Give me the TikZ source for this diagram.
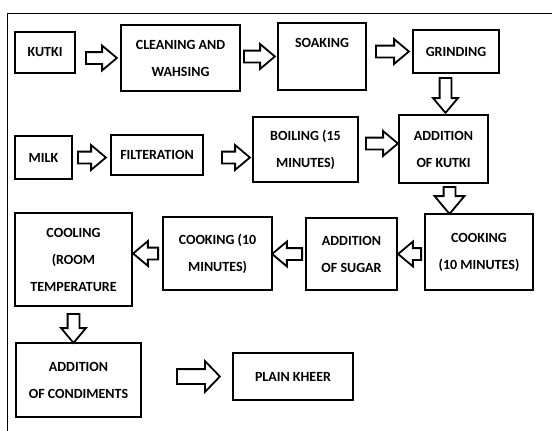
\documentclass[tikz,border=0pt]{standalone}
\usepackage{fontspec}
\setmainfont{Carlito}
\usetikzlibrary{arrows.meta,calc,shapes.arrows}

\begin{document}
\begin{tikzpicture}[
  x=1pt, y=-1pt,
  box/.style={draw, line width=2pt, align=center, inner sep=2pt, font=\bfseries\fontsize{14}{27}\selectfont},
  blkarrow/.style={single arrow, draw, line width=1.8pt, fill=white, inner xsep=0pt, inner ysep=5pt,
    single arrow head extend=6.5pt, single arrow tip angle=80},
  blk/.style={to path={let \p1=(\tikztostart), \p2=(\tikztotarget),
    \n1={veclen(\x2-\x1,\y2-\y1)}, \n2={atan2(\y2-\y1,\x2-\x1)} in
    node[blkarrow, minimum height=\n1, rotate=\n2, anchor=tail] at (\p1) {}}}
]
\useasboundingbox (0,0) rectangle (552,431);
\draw[line width=0.8pt] (552,13) -- (7,13) -- (7,431);

% kutki line
\node[box, minimum width=60pt, minimum height=41pt] (kutki) at (45,52.5) {KUTKI};
\node[box, minimum width=119pt, minimum height=66pt] (clean) at (180.5,58) {CLEANING AND\\WAHSING};
\node[box, minimum width=88pt, minimum height=67pt] (soak) at (322,56.5) {SOAKING\\~};
\node[box, minimum width=86pt, minimum height=43pt] (grind) at (456,51.5) {GRINDING};

% milk line
\node[box, minimum width=57pt, minimum height=43pt] (milk) at (43.5,157.5) {MILK};
\node[box, minimum width=92pt, minimum height=40pt] (filt) at (157,155) {FILTERATION};
\node[box, minimum width=105pt, minimum height=65pt] (boil) at (305.5,149.5) {BOILING (15\\MINUTES)};
\node[box, minimum width=89pt, minimum height=68pt] (addk) at (443.5,149) {ADDITION\\OF KUTKI};

% cooking back to the left
\node[box, minimum width=108pt, minimum height=76pt] (cook2) at (479,252) {COOKING\\(10 MINUTES)};
\node[box, minimum width=91pt, minimum height=72pt] (sugar) at (351.5,254) {ADDITION\\OF SUGAR};
\node[box, minimum width=109pt, minimum height=73pt] (cook1) at (217.5,253.5) {COOKING (10\\MINUTES)};
\node[box, minimum width=117pt, minimum height=93pt] (cool) at (73.5,259.5) {COOLING\\(ROOM\\TEMPERATURE};

% last step
\node[box, minimum width=125pt, minimum height=74pt] (cond) at (78.5,380) {ADDITION\\OF CONDIMENTS};
\node[box, minimum width=120pt, minimum height=47pt] (kheer) at (293,376.5) {PLAIN KHEER};

\draw[blk] ([xshift=9pt]kutki.east |- clean) to ([xshift=-4pt]clean.west);
\draw[blk] ([xshift=2pt]clean.east |- soak) to ([xshift=-3pt]soak.west);
\draw[blk] ([xshift=8pt]soak.east |- grind) to ([xshift=-4pt]grind.west);
\draw[blk] ([xshift=2pt,yshift=-3pt]grind.south -| addk) to ([xshift=2pt,yshift=2pt]addk.north);
\draw[blk] ([xshift=4pt]milk.east) to ([xshift=-5pt]milk.east -| filt.west);
\draw[blk] ([xshift=17pt]filt.east |- milk) to ([xshift=-3pt]boil.west |- milk);
\draw[blk] ([xshift=6pt,yshift=6pt]boil.east) to ([xshift=-1pt,yshift=6pt]boil.east -| addk.west);
\draw[blk, blkarrow/.append style={single arrow head extend=9pt}] ([xshift=6pt,yshift=-2pt]addk.south) to ([xshift=6pt]addk.south |- cook2.north);
\draw[blk] ([xshift=-2pt]cook2.west |- sugar) to ([xshift=1pt]sugar.east);
\draw[blk] ([xshift=-2pt]sugar.west) to (sugar.west -| cook1.east);
\draw[blk] ([xshift=-3pt]cook1.west) to ([xshift=1pt]cook1.west -| cool.east);
\draw[blk] ([yshift=-6pt]cool.south) to (cool.south |- cond.north);
\draw[blk, blkarrow/.append style={inner ysep=6.5pt, single arrow head extend=8pt, single arrow tip angle=92}] ([xshift=34pt]cond.east |- kheer) to ([xshift=-13pt]kheer.west);
\end{tikzpicture}
\end{document}
